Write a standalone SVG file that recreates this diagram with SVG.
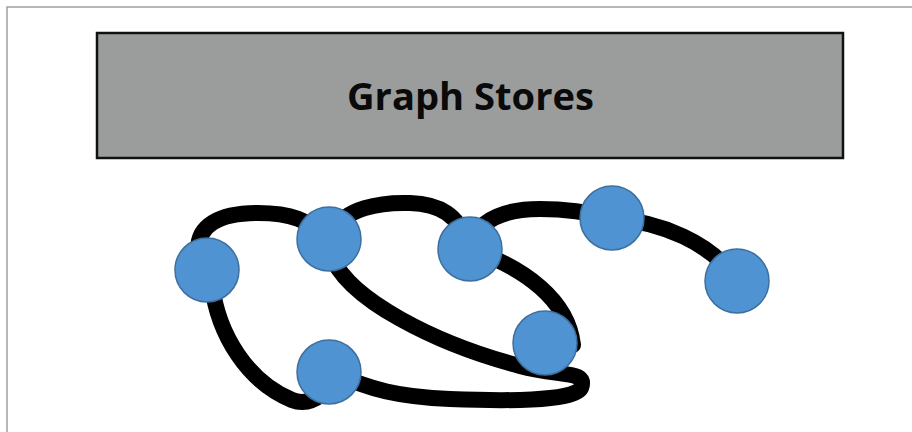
<svg xmlns="http://www.w3.org/2000/svg" width="912" height="432" viewBox="0 0 912 432">
<style>
.edge{fill:none;stroke:#000;stroke-width:16;stroke-linecap:round;stroke-linejoin:round}
.node{fill:#4f93d2;stroke:#3d6f9e;stroke-width:1.5}
.title{font-family:"Open Sans","Liberation Sans",sans-serif;font-weight:bold;font-size:37px;fill:#0a0a0a}
</style>
<rect x="0" y="0" width="912" height="432" fill="#fff"/>
<rect x="7" y="7" width="930" height="450" fill="none" stroke="#a0a0a0" stroke-width="1.5"/>
<g id="header">
<rect x="97" y="33" width="746" height="125" fill="#9b9d9d" stroke="#111" stroke-width="2.5"/>
<text class="title" x="470.5" y="110" text-anchor="middle" textLength="247" lengthAdjust="spacingAndGlyphs">Graph Stores</text>
</g>
<g id="connectors">
<path class="edge" d="M200 262 C190 222 225 213 258 213 C290 213 310 220 325 238"/>
<path class="edge" d="M332 232 C345 208 380 202 410 203 C440 204 458 215 468 243"/>
<path class="edge" d="M470 245 C480 216 510 209 540 209 C570 209 592 213 612 218"/>
<path class="edge" d="M612 218 C660 222 712 242 737 281"/>
<path class="edge" d="M212 285 C218 335 248 382 292 400 C302 404 312 402 322 394"/>
<path class="edge" d="M330 252 C345 300 440 345 520 366 C560 377 588 370 581 388 C574 402 500 401 450 399 C400 397 370 390 332 372"/>
<path class="edge" d="M470 249 C525 268 568 300 573 345"/>
</g>
<g id="node-1"><circle class="node" cx="207" cy="270" r="32"/></g>
<g id="node-2"><circle class="node" cx="329" cy="239" r="32"/></g>
<g id="node-3"><circle class="node" cx="329" cy="372" r="32"/></g>
<g id="node-4"><circle class="node" cx="470" cy="249" r="32"/></g>
<g id="node-5"><circle class="node" cx="612" cy="218" r="32"/></g>
<g id="node-6"><circle class="node" cx="737" cy="281" r="32"/></g>
<g id="node-7"><circle class="node" cx="545" cy="343" r="32"/></g>
</svg>
